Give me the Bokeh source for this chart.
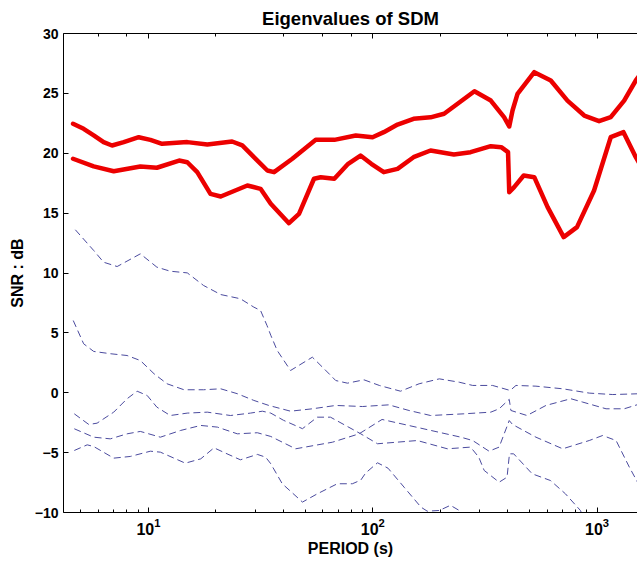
from bokeh.plotting import figure
from bokeh.models import LogAxis, FixedTicker, Range1d
from bokeh.embed import file_html
from bokeh.resources import INLINE

# ---- data (period in s, SNR in dB) ----
r1_x = [4.61, 5.14, 5.7, 6.31, 6.88, 7.76, 9.05, 10.2, 11.5, 14.9, 18.3, 23.6, 26.2, 30.6, 33.9,
        36.3, 43.8, 55.7, 67.4, 84.0, 99.8, 112, 129, 152, 181, 208, 239, 284, 336, 385, 406,
        420, 442, 525, 622, 738, 877, 1021, 1151, 1321, 1489, 1560]
r1_y = [22.46, 22.04, 21.5, 20.93, 20.65, 20.93, 21.34, 21.12, 20.79, 20.93, 20.73, 20.98, 20.65,
        19.39, 18.56, 18.42, 19.54, 21.12, 21.12, 21.48, 21.34, 21.76, 22.4, 22.88, 23.0, 23.3,
        24.13, 25.18, 24.4, 23.01, 22.24, 23.57, 24.96, 26.77, 26.08, 24.4, 23.15, 22.68, 23.01,
        24.4, 26.08, 26.6]

r2_x = [4.61, 5.7, 7.0, 9.2, 10.9, 13.7, 14.9, 16.5, 18.9, 21.0, 27.6, 31.6, 35.1, 42.3, 46.9,
        54.7, 58.6, 67.4, 77.7, 88.2, 98.5, 112, 129, 152, 181, 230, 273, 336, 374, 401, 406,
        427, 471, 525, 602, 710, 814, 970, 1151, 1312, 1489, 1560]
r2_y = [19.54, 18.9, 18.5, 18.9, 18.79, 19.39, 19.25, 18.42, 16.61, 16.39, 17.31, 17.03, 15.78,
        14.16, 14.94, 17.87, 18.0, 17.87, 19.12, 19.81, 19.12, 18.42, 18.7, 19.67, 20.23, 19.9,
        20.09, 20.59, 20.51, 20.09, 16.75, 17.17, 18.14, 18.0, 15.5, 13.0, 13.83, 16.89, 21.34,
        21.76, 19.67, 19.0]

b1_x = [4.72, 5.7, 6.31, 7.25, 9.2, 10.9, 12.5, 14.9, 17.6, 21.0, 25.7, 29.5, 31.6, 33.8, 35.1,
        37.5, 43.0, 53.8, 60.7, 68.4, 77.1, 91.4, 107, 133, 161, 198, 243, 279, 342, 410, 435,
        534, 703, 923, 1175, 1560]
b1_y = [13.61, 11.88, 10.9, 10.54, 11.6, 10.49, 10.15, 10.01, 8.96, 8.2, 7.85, 7.15, 6.87, 5.6,
        4.8, 3.53, 1.86, 2.97, 2.0, 1.02, 0.8, 1.08, 0.61, 0.13, 0.75, 1.16, 0.88, 0.61, 0.61,
        0.19, 0.61, 0.55, 0.33, -0.03, -0.15, -0.08]

b2_x = [4.62, 5.14, 5.7, 6.76, 8.03, 9.2, 10.6, 12.1, 14.4, 17.6, 21.0, 24.9, 29.5, 34.4, 43.0,
        53.8, 68.4, 90.0, 118, 145, 181, 255, 336, 366, 406, 413, 487, 592, 764, 863, 1097,
        1321, 1560]
b2_y = [6.03, 4.09, 3.45, 3.26, 3.11, 2.69, 1.58, 0.75, 0.25, 0.25, 0.33, -0.08, -0.64, -1.06,
        -1.54, -1.34, -1.06, -1.15, -1.01, -1.48, -1.9, -1.76, -1.62, -1.34, -0.55, -1.48, -1.9,
        -1.06, -0.5, -0.78, -1.34, -1.34, -0.92]

b3_x = [4.67, 5.42, 5.9, 7.0, 8.03, 8.9, 9.87, 10.9, 12.5, 14.9, 18.3, 23.2, 28.5, 32.2, 35.1,
        40.0, 48.6, 56.6, 64.8, 88.4, 105, 158, 215, 273, 297, 314, 366, 397, 407, 425, 514,
        620, 723, 843, 870]
b3_y = [-1.76, -2.65, -2.54, -1.62, -0.5, 0.13, -0.23, -1.2, -1.9, -1.7, -1.62, -1.9, -1.7, -1.54,
        -1.7, -2.3, -3.0, -2.04, -2.04, -3.43, -4.26, -3.99, -4.68, -4.54, -5.38, -6.49, -7.47,
        -7.05, -5.1, -5.1, -6.77, -7.33, -8.44, -9.83, -10.4]

b4_x = [4.67, 5.7, 6.76, 8.03, 9.2, 11.3, 13.9, 17.1, 20.3, 24.9, 30.6, 35.1, 45.3, 66.1, 86.9,
        110, 156, 247, 279, 330, 366, 406, 420, 534, 703, 923, 1059, 1216, 1394, 1560]
b4_y = [-3.01, -3.71, -3.85, -3.43, -3.23, -3.71, -3.15, -2.73, -2.87, -3.43, -3.34, -3.65, -4.68,
        -4.13, -3.43, -2.23, -2.87, -3.71, -3.99, -4.88, -4.54, -2.32, -2.65, -3.71, -4.68, -3.99,
        -3.57, -3.99, -6.22, -7.9]

b5_x = [4.67, 5.33, 5.7, 7.0, 8.3, 10.2, 11.3, 14.6, 17.1, 19.6, 22.4, 25.7, 30.6, 33.3, 35.1,
        39.5, 48.6, 56.6, 69.5, 81.1, 88.4, 93.0, 105, 117, 138, 164, 175, 198, 222, 243, 260]
b5_y = [-4.82, -4.35, -4.49, -5.46, -5.32, -4.88, -4.96, -5.88, -5.52, -4.6, -5.1, -5.6, -5.15,
        -5.38, -5.93, -7.6, -9.13, -8.44, -7.6, -7.6, -7.3, -6.7, -5.85, -6.3, -7.89, -9.55,
        -9.89, -9.83, -9.4, -9.83, -10.5]

y_ticks = [-10, -5, 0, 5, 10, 15, 20, 25, 30]
x_start, x_end = 4.18, 1515
y_start, y_end = -10, 30

FONT = "Liberation Sans"

p = figure(width=637, height=562, x_axis_type="log", output_backend="svg",
           toolbar_location=None, x_range=Range1d(x_start, x_end),
           y_range=Range1d(y_start, y_end), title="Eigenvalues of SDM",
           min_border_left=63, min_border_right=0, min_border_top=33, min_border_bottom=50)

p.title.text_font = FONT
p.title.text_font_size = "18.5px"
p.title.text_font_style = "bold"
p.title.align = "center"
p.title.text_color = "black"

p.grid.visible = False
p.outline_line_color = None

for ax in (p.xaxis[0], p.yaxis[0]):
    ax.major_label_text_font = FONT
    ax.major_label_text_font_style = "bold"
    ax.major_label_text_color = "black"
    ax.axis_label_text_font = FONT
    ax.axis_label_text_font_style = "bold"
    ax.axis_label_text_font_size = "16px"
    ax.axis_label_text_color = "black"
    ax.axis_line_color = "black"
    ax.major_tick_line_color = "black"
    ax.minor_tick_line_color = "black"
    ax.major_tick_in = 5
    ax.major_tick_out = 0
    ax.minor_tick_in = 3
    ax.minor_tick_out = 0

p.xaxis.axis_label = "PERIOD (s)"
p.yaxis.axis_label = "SNR : dB"
p.xaxis.major_label_text_font_size = "16px"
p.yaxis.major_label_text_font_size = "14px"
p.yaxis.ticker = FixedTicker(ticks=y_ticks)
p.yaxis.minor_tick_line_color = None
p.xaxis.axis_label_standoff = 2
p.yaxis.axis_label_standoff = 6

top = LogAxis(major_label_text_font_size="1px", major_label_text_color=None,
              major_label_standoff=0,
              major_tick_in=5, major_tick_out=0, minor_tick_in=3, minor_tick_out=0,
              axis_line_color="black", major_tick_line_color="black",
              minor_tick_line_color="black")
p.add_layout(top, "above")

RED = "#ec0000"
BLUE = "#4b4b9e"
for xs, ys in ((r1_x, r1_y), (r2_x, r2_y)):
    p.line(xs, ys, line_color=RED, line_width=4.5, line_join="round", line_cap="round")
for xs, ys in ((b1_x, b1_y), (b2_x, b2_y), (b3_x, b3_y), (b4_x, b4_y), (b5_x, b5_y)):
    p.line(xs, ys, line_color=BLUE, line_width=1, line_dash="7 4", line_join="round")

open("out.html", "w").write(file_html(p, INLINE))
